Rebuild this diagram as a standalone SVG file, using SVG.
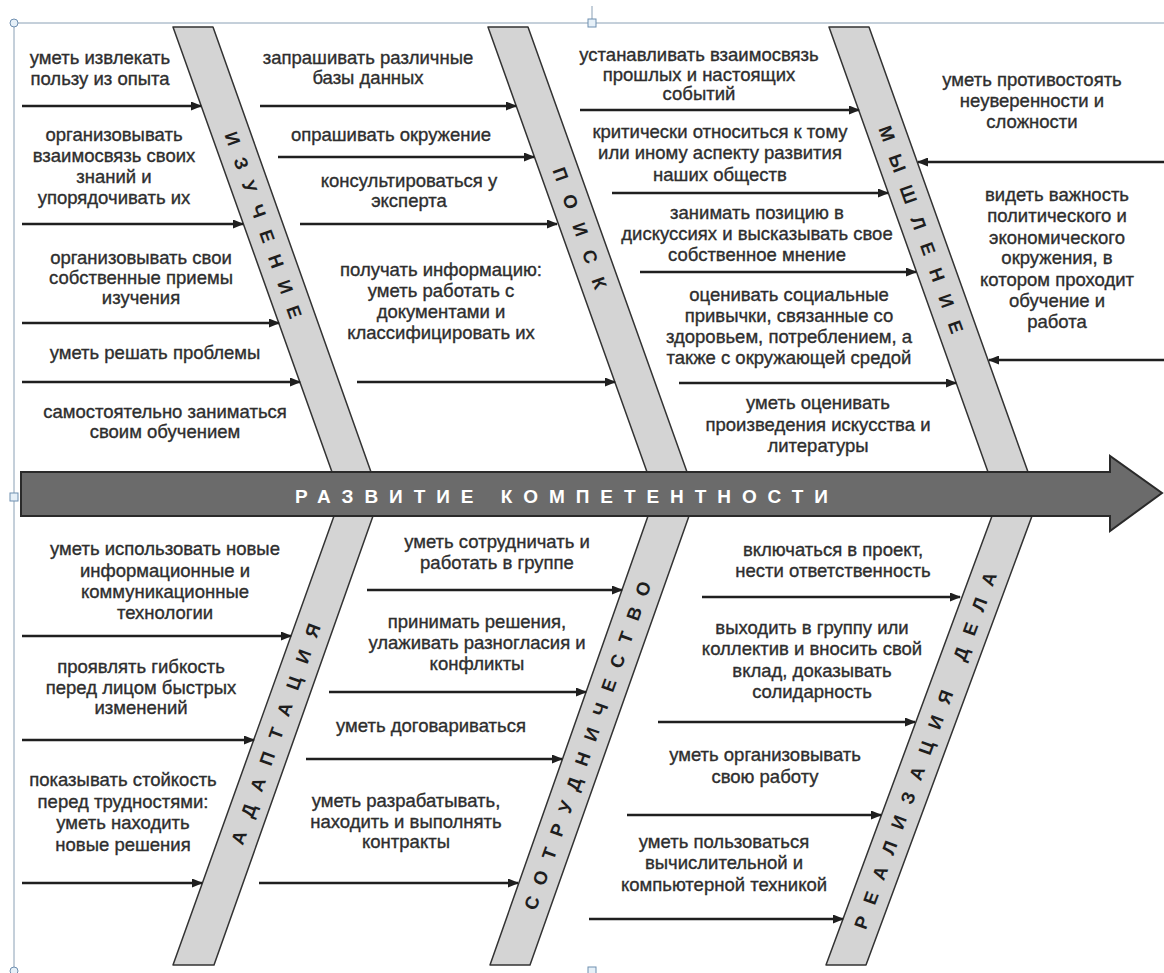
<svg xmlns="http://www.w3.org/2000/svg" width="1164" height="973" viewBox="0 0 1164 973">
<defs>
<marker id="ah" markerUnits="userSpaceOnUse" markerWidth="11" markerHeight="9" refX="10" refY="4.5" orient="auto">
<path d="M0,0 L11,4.5 L0,9 Z" fill="#1f1f1f"/>
</marker>
<style>
.t{font-family:"Liberation Sans",Arial,sans-serif;font-size:18.5px;fill:#2e2e2e;stroke:#2e2e2e;stroke-width:0.35px;text-anchor:middle}
.bone{fill:#d4d4d4;stroke:#333;stroke-width:1.5;stroke-linejoin:round}
.bl{font-family:"Liberation Sans",Arial,sans-serif;font-size:18.5px;font-weight:bold;fill:#1e1e1e;text-anchor:middle}
.c{stroke:#1f1f1f;stroke-width:2.5;fill:none;marker-end:url(#ah)}
.fr{stroke:#8aa0b5;stroke-width:1;fill:none}
.h{fill:#e6f0f8;stroke:#6f8fb0;stroke-width:1}
</style>
</defs>
<rect width="1164" height="973" fill="#ffffff"/>
<g id="frame">
<line class="fr" x1="14" y1="23" x2="1164" y2="23"/>
<line class="fr" x1="14" y1="23" x2="14" y2="970"/>
<line class="fr" x1="592" y1="6" x2="592" y2="19"/>
<circle class="h" cx="14" cy="23" r="4"/>
<rect class="h" x="588" y="19" width="8" height="8"/>
<rect class="h" x="10" y="493" width="8" height="8"/>
<circle class="h" cx="14" cy="971" r="4"/>
<rect class="h" x="588" y="967" width="8" height="8"/>
</g>
<g id="bone-izuchenie">
<polygon class="bone" points="173,27 213,27 371,472 332,472"/>
<text class="bl" transform="translate(263.3,225) rotate(70.4)" y="6.5" textLength="197" lengthAdjust="spacing">ИЗУЧЕНИЕ</text>
</g>
<g id="bone-poisk">
<polygon class="bone" points="488,27 528,27 687,472 647,472"/>
<text class="bl" transform="translate(579.8,228) rotate(70.4)" y="6.5" textLength="128" lengthAdjust="spacing">ПОИСК</text>
</g>
<g id="bone-myshlenie">
<polygon class="bone" points="829,27 869,27 1028,472 988,472"/>
<text class="bl" transform="translate(921,229.5) rotate(70.4)" y="6.5" textLength="219" lengthAdjust="spacing">МЫШЛЕНИЕ</text>
</g>
<g id="bone-adaptaciya">
<polygon class="bone" points="334,516 373,516 214,965 173,965"/>
<text class="bl" transform="translate(275.8,734) rotate(-70.4)" y="6.5" textLength="233" lengthAdjust="spacing">АДАПТАЦИЯ</text>
</g>
<g id="bone-sotrudnichestvo">
<polygon class="bone" points="648,516 689,516 530,965 490,965"/>
<text class="bl" transform="translate(587.5,745.5) rotate(-70.5)" y="6.5" textLength="347" lengthAdjust="spacing">СОТРУДНИЧЕСТВО</text>
</g>
<g id="bone-realizaciya">
<polygon class="bone" points="992,516 1032,516 866,965 826,965"/>
<text class="bl" transform="translate(925.3,750.5) rotate(-69.7)" y="6.5" textLength="379" lengthAdjust="spacing">РЕАЛИЗАЦИЯ ДЕЛА</text>
</g>
<g id="spine">
<polygon points="21,472 1110,472 1110,456 1162,493 1110,531 1110,516 21,516" fill="#6b6b6b" stroke="#2a2a2a" stroke-width="2" stroke-linejoin="miter"/>
<text x="561.5" y="503" textLength="533" lengthAdjust="spacing" style="font-family:'Liberation Sans',Arial,sans-serif;font-size:19px;font-weight:bold;fill:#ffffff;text-anchor:middle">РАЗВИТИЕ КОМПЕТЕНТНОСТИ</text>
</g>
<g id="connectors">
<line class="c" x1="22" y1="106" x2="201" y2="106"/>
<line class="c" x1="22" y1="224" x2="243" y2="224"/>
<line class="c" x1="22" y1="323" x2="279" y2="323"/>
<line class="c" x1="22" y1="382" x2="300" y2="382"/>
<line class="c" x1="260" y1="106" x2="516" y2="106"/>
<line class="c" x1="278" y1="157" x2="534" y2="157"/>
<line class="c" x1="300" y1="224" x2="557" y2="224"/>
<line class="c" x1="357" y1="382" x2="615" y2="382"/>
<line class="c" x1="580" y1="110" x2="859" y2="110"/>
<line class="c" x1="612" y1="193" x2="888" y2="193"/>
<line class="c" x1="640" y1="272" x2="916" y2="272"/>
<line class="c" x1="679" y1="383" x2="956" y2="383"/>
<line class="c" x1="1164" y1="162" x2="918" y2="162"/>
<line class="c" x1="1164" y1="360" x2="989" y2="360"/>
<line class="c" x1="22" y1="636" x2="291" y2="636"/>
<line class="c" x1="22" y1="740" x2="254" y2="740"/>
<line class="c" x1="22" y1="883" x2="202" y2="883"/>
<line class="c" x1="367" y1="590" x2="622" y2="590"/>
<line class="c" x1="329" y1="692" x2="586" y2="692"/>
<line class="c" x1="306" y1="759" x2="562" y2="759"/>
<line class="c" x1="259" y1="883" x2="518" y2="883"/>
<line class="c" x1="702" y1="597" x2="960" y2="597"/>
<line class="c" x1="658" y1="722" x2="915" y2="722"/>
<line class="c" x1="627" y1="815" x2="881" y2="815"/>
<line class="c" x1="589" y1="919" x2="843" y2="919"/>
</g>
<g id="labels-izuchenie">
<text class="t" x="100" y="64">уметь извлекать<tspan x="100" y="85">пользу из опыта</tspan></text>
<text class="t" x="114" y="141">организовывать<tspan x="114" y="162">взаимосвязь своих</tspan><tspan x="114" y="183">знаний и</tspan><tspan x="114" y="204">упорядочивать их</tspan></text>
<text class="t" x="141" y="264">организовывать  свои<tspan x="141" y="284">собственные приемы</tspan><tspan x="141" y="304">изучения</tspan></text>
<text class="t" x="155" y="359">уметь решать проблемы</text>
<text class="t" x="165" y="418">самостоятельно заниматься<tspan x="165" y="438">своим обучением</tspan></text>
</g>
<g id="labels-poisk">
<text class="t" x="368" y="64">запрашивать различные<tspan x="368" y="84">базы данных</tspan></text>
<text class="t" x="391" y="141">опрашивать окружение</text>
<text class="t" x="409" y="187">консультироваться у<tspan x="409" y="207">эксперта</tspan></text>
<text class="t" x="441" y="276">получать информацию:<tspan x="441" y="297">уметь работать с</tspan><tspan x="441" y="318">документами и</tspan><tspan x="441" y="339">классифицировать их</tspan></text>
</g>
<g id="labels-myshlenie">
<text class="t" x="699" y="61">устанавливать взаимосвязь<tspan x="699" y="81">прошлых и настоящих</tspan><tspan x="699" y="100">событий</tspan></text>
<text class="t" x="720" y="138">критически относиться к тому<tspan x="720" y="159">или иному аспекту развития</tspan><tspan x="720" y="181">наших обществ</tspan></text>
<text class="t" x="757" y="219">занимать позицию в<tspan x="757" y="240">дискуссиях и высказывать свое</tspan><tspan x="757" y="261">собственное мнение</tspan></text>
<text class="t" x="789" y="301">оценивать социальные<tspan x="789" y="322">привычки, связанные со</tspan><tspan x="789" y="343">здоровьем, потреблением, а</tspan><tspan x="789" y="364">также с окружающей средой</tspan></text>
<text class="t" x="818" y="409">уметь оценивать<tspan x="818" y="431">произведения искусства и</tspan><tspan x="818" y="452">литературы</tspan></text>
<text class="t" x="1032" y="86">уметь противостоять<tspan x="1032" y="107">неуверенности и</tspan><tspan x="1032" y="128">сложности</tspan></text>
<text class="t" x="1057" y="201">видеть важность<tspan x="1057" y="222">политического и</tspan><tspan x="1057" y="244">экономического</tspan><tspan x="1057" y="264">окружения, в</tspan><tspan x="1057" y="286">котором проходит</tspan><tspan x="1057" y="307">обучение и</tspan><tspan x="1057" y="328">работа</tspan></text>
</g>
<g id="labels-adaptaciya">
<text class="t" x="165" y="555">уметь использовать новые<tspan x="165" y="577">информационные и</tspan><tspan x="165" y="598">коммуникационные</tspan><tspan x="165" y="619">технологии</tspan></text>
<text class="t" x="141" y="673">проявлять гибкость<tspan x="141" y="694">перед лицом быстрых</tspan><tspan x="141" y="714">изменений</tspan></text>
<text class="t" x="123" y="786">показывать стойкость<tspan x="123" y="808">перед трудностями:</tspan><tspan x="123" y="829">уметь находить</tspan><tspan x="123" y="851">новые решения</tspan></text>
</g>
<g id="labels-sotrudnichestvo">
<text class="t" x="497" y="548">уметь сотрудничать и<tspan x="497" y="569">работать в группе</tspan></text>
<text class="t" x="477" y="628">принимать решения,<tspan x="477" y="649">улаживать разногласия и</tspan><tspan x="477" y="670">конфликты</tspan></text>
<text class="t" x="431" y="732">уметь договариваться</text>
<text class="t" x="406" y="807">уметь разрабатывать,<tspan x="406" y="828">находить и выполнять</tspan><tspan x="406" y="848">контракты</tspan></text>
</g>
<g id="labels-realizaciya">
<text class="t" x="833" y="556">включаться в проект,<tspan x="833" y="577">нести ответственность</tspan></text>
<text class="t" x="812" y="634">выходить в группу или<tspan x="812" y="655">коллектив и вносить свой</tspan><tspan x="812" y="677">вклад, доказывать</tspan><tspan x="812" y="698">солидарность</tspan></text>
<text class="t" x="765" y="761">уметь организовывать<tspan x="765" y="783">свою работу</tspan></text>
<text class="t" x="724" y="848">уметь пользоваться<tspan x="724" y="869">вычислительной и</tspan><tspan x="724" y="891">компьютерной техникой</tspan></text>
</g>
</svg>
